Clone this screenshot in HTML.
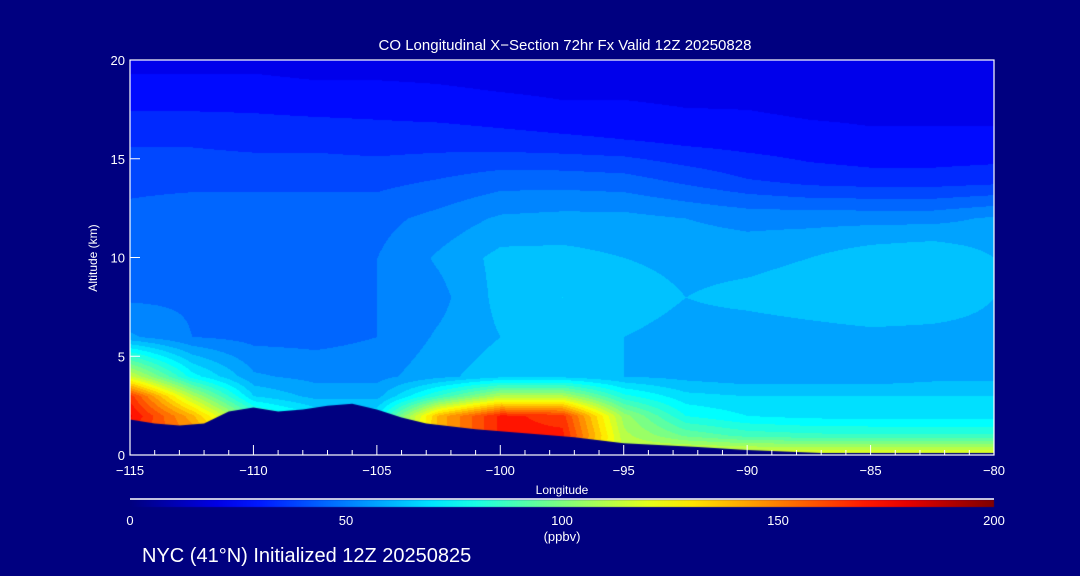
<!DOCTYPE html>
<html><head><meta charset="utf-8"><style>
html,body{margin:0;padding:0;background:#000080;}
#wrap{position:relative;width:1080px;height:576px;background:#000080;overflow:hidden;font-family:"Liberation Sans",sans-serif;color:#fff;}
canvas{position:absolute;left:0;top:0;}
svg{position:absolute;left:0;top:0;}
</style></head><body>
<div id="wrap">
<canvas id="cv" width="1080" height="576"></canvas>
<svg id="sv" width="1080" height="576"></svg>
</div>
<script>
const lons=[-115,-112.5,-110,-107.5,-105,-102.5,-100,-97.5,-95,-92.5,-90,-87.5,-85,-82.5,-80];
const alts=[0,1,2,3,4,6,8,10,12,14,16,18,20];
const co0=[150,140,110,90,90,120,150,150,115,125,125,125,125,125,125];
const co1=[165,150,110,85,85,140,170,170,110,95,88,86,85,85,85];
const co2=[175,140,90,72,72,140,170,165,105,78,72,70,70,70,70];
const co3=[165,110,66,58,58,85,110,110,80,68,66,66,66,66,66];
const co4=[115,75,55,52,52,58,64,64,60,58,56,56,56,58,58];
const co6=[55,48,46,46,48,55,60,62,60,57,56,57,58,58,58];
const co8=[47,47,46,46,48,52,62,66,64,60,62,64,66,64,60];
const co10=[48,48,46,46,48,55,62,62,60,58,58,60,64,66,60];
const co12=[44,46,46,46,46,50,55,56,56,54,52,52,52,52,55];
const co14=[40,40,40,40,40,42,45,45,44,40,36,33,32,32,33];
const co16=[35,35,34,34,33,33,32,31,30,28,27,26,25,25,25];
const co18=[28,28,28,27,27,26,25,24,24,23,23,22,22,22,22];
const co20=[22,22,22,21,21,21,20,20,20,20,20,20,20,20,20];
const coRows=[co0,co1,co2,co3,co4,co6,co8,co10,co12,co14,co16,co18,co20];
const terrLon=[-115,-114,-113,-112,-111,-110,-109,-108,-107,-106,-105,-104,-103,-101,-99,-97,-95,-92,-90,-87,-80];
const terrAlt=[1.8,1.6,1.5,1.6,2.2,2.4,2.2,2.3,2.5,2.6,2.3,1.9,1.6,1.3,1.1,0.9,0.6,0.4,0.25,0.1,0.1];
const xTicks=[-115,-110,-105,-100,-95,-90,-85,-80];
const yTicks=[0,5,10,15,20];
const cbTicks=[0,50,100,150,200];

const X0=130,X1=994,Y0=455,Y1=60;
const xs=v=>X0+(v+115)/35*(X1-X0);
const ys=v=>Y0-v/20*(Y0-Y1);
function jet(v){let t=Math.max(0,Math.min(1,v/200));
 const f=(a)=>Math.max(0,Math.min(1,1.5-Math.abs(4*t-a)));
 return [f(3)*255,f(2)*255,f(1)*255];}
function interp(arr,x){
 for(let i=0;i<arr.length-1;i++){if(x<=arr[i+1]){const f=(x-arr[i])/(arr[i+1]-arr[i]);return [i,f];}}
 return [arr.length-2,1];}
function field(lon,alt){
 const [i,fx]=interp(lons,lon);const [j,fy]=interp(alts,alt);
 const a=coRows[j][i]*(1-fx)+coRows[j][i+1]*fx;
 const b=coRows[j+1][i]*(1-fx)+coRows[j+1][i+1]*fx;
 return a*(1-fy)+b*fy;}
const cv=document.getElementById('cv');const ctx=cv.getContext('2d');
const img=ctx.createImageData(X1-X0,Y0-Y1);
for(let py=0;py<Y0-Y1;py++){const alt=(Y0-Y1-py)/(Y0-Y1)*20;
 for(let px=0;px<X1-X0;px++){const lon=-115+px/(X1-X0)*35;
  let v=field(lon,alt);v=Math.floor(v/6)*6+3;const c=jet(v);const k=(py*(X1-X0)+px)*4;
  img.data[k]=c[0];img.data[k+1]=c[1];img.data[k+2]=c[2];img.data[k+3]=255;}}
ctx.putImageData(img,X0,Y1);
ctx.fillStyle='#000080';ctx.beginPath();ctx.moveTo(xs(terrLon[0]),Y0);
terrLon.forEach((l,i)=>ctx.lineTo(xs(l),ys(terrAlt[i])));
ctx.lineTo(xs(terrLon[terrLon.length-1]),Y0);ctx.closePath();ctx.fill();
const cb=ctx.createLinearGradient(X0,0,X1,0);
for(let i=0;i<=20;i++){const c=jet(i*10);cb.addColorStop(i/20,`rgb(${c[0]|0},${c[1]|0},${c[2]|0})`);}
ctx.fillStyle=cb;ctx.fillRect(X0,500,X1-X0,7);

const sv=document.getElementById('sv');const NS='http://www.w3.org/2000/svg';
function el(tag,attrs,txt){const e=document.createElementNS(NS,tag);for(const k in attrs)e.setAttribute(k,attrs[k]);if(txt!==undefined)e.textContent=txt;sv.appendChild(e);return e;}
let e;
e=el('rect',{x:X0,y:Y1,width:X1-X0,height:Y0-Y1,fill:'none',stroke:'#fff','stroke-width':1.2});


for(let l=-115;l<=-80;l++){const maj=l%5===0;
 e=el('line',{x1:xs(l),x2:xs(l),y1:Y0,y2:Y0-(maj?10:5),stroke:'#fff'});
 
 }
xTicks.forEach(t=>{e=el('text',{x:xs(t),y:475,fill:'#fff','font-size':13,'text-anchor':'middle'},'\u2212'+Math.abs(t));
 
 });
yTicks.forEach(t=>{e=el('line',{x1:X0,x2:X0+10,y1:ys(t),y2:ys(t),stroke:'#fff'});
 
 
 e=el('text',{x:125,y:ys(t)+5,fill:'#fff','font-size':13,'text-anchor':'end'},String(t));
 
 });
e=el('text',{x:562,y:494,fill:'#fff','font-size':12,'text-anchor':'middle'},'Longitude');


e=el('text',{x:97,y:258,fill:'#fff','font-size':12,'text-anchor':'middle',transform:'rotate(-90 97 258)'},'Altitude (km)');


e=el('text',{x:565,y:50,fill:'#fff','font-size':15,'text-anchor':'middle'},'CO Longitudinal X\u2212Section 72hr  Fx Valid 12Z 20250828');


e=el('line',{x1:X0,x2:X1,y1:499,y2:499,stroke:'#fff','stroke-width':1.5});


cbTicks.forEach(t=>{e=el('text',{x:X0+t/200*(X1-X0),y:525,fill:'#fff','font-size':13,'text-anchor':'middle'},String(t));
 
 });
e=el('text',{x:562,y:541,fill:'#fff','font-size':13,'text-anchor':'middle'},'(ppbv)');


e=el('text',{x:142,y:562,fill:'#fff','font-size':20},'NYC (41\u00B0N) Initialized 12Z 20250825');


</script>
</body></html>
